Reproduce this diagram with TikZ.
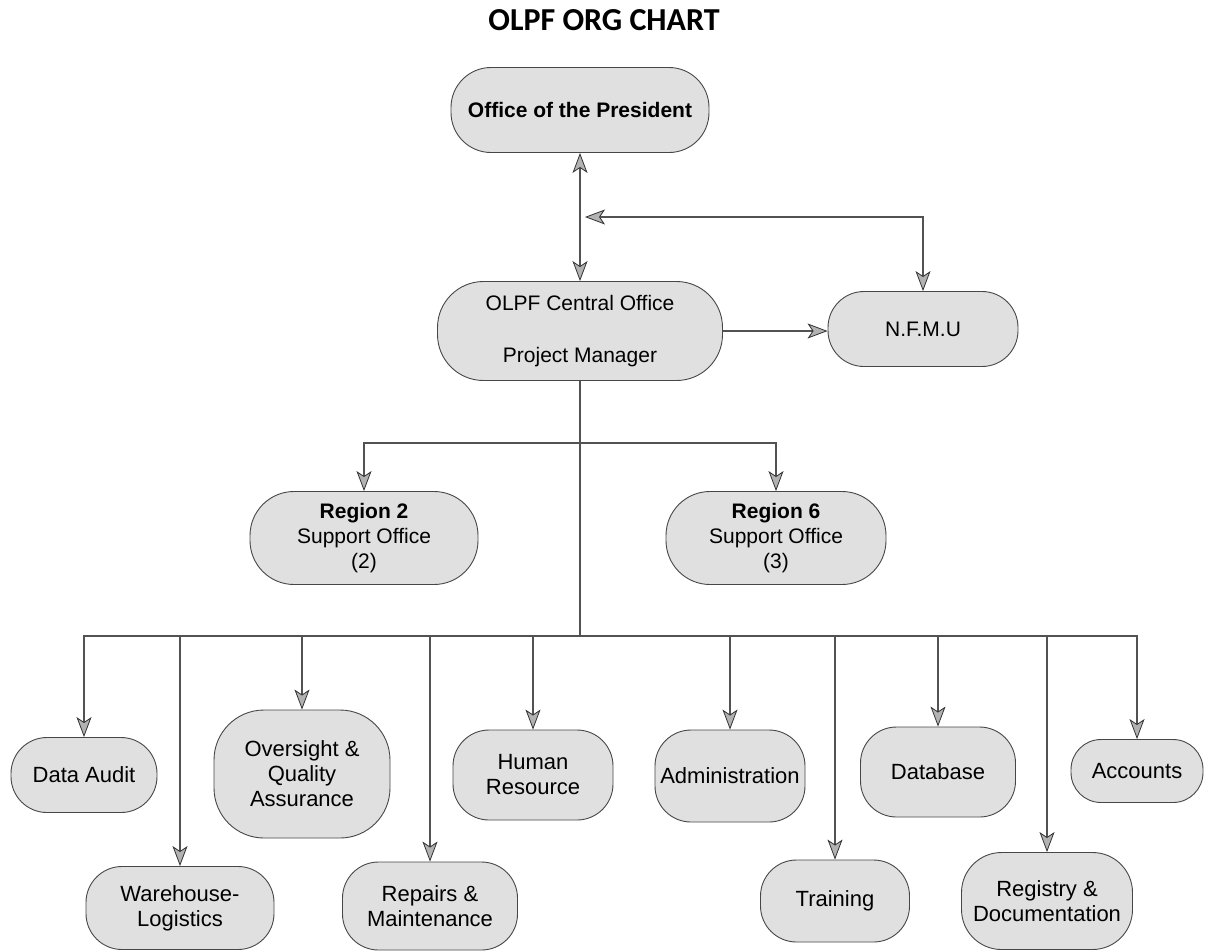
\documentclass[tikz,border=0pt]{standalone}
\usepackage{fontspec}
\setmainfont{Liberation Sans}
\newfontfamily\titlefont{Carlito}
\usetikzlibrary{arrows.meta}
\tikzset{
  unitbox/.style={draw=black!72, line width=0.9pt, fill=black!12, rounded corners=36pt,
    align=center, inner sep=0pt, font=\fontsize{21}{25}\selectfont},
  lowbox/.style={unitbox, font=\fontsize{22}{25}\selectfont},
  tipstyle/.tip={Stealth[length=20pt,width=15pt,inset=5pt,color=black!80,fill=black!30,line width=0.8pt]},
  conn/.style={draw=black!68, line width=2.4pt},
  arr/.style={conn, -tipstyle},
  dblarr/.style={conn, tipstyle-tipstyle},
}
\begin{document}
\begin{tikzpicture}[x=1pt,y=-1pt]
\useasboundingbox (0,0) rectangle (1209,951);
\node[font=\titlefont\bfseries\fontsize{32}{36}\selectfont, inner sep=0pt] (title) at (604,20) {OLPF ORG CHART};

% top level
\node[unitbox, minimum width=258pt, minimum height=85pt, rounded corners=40pt] (op) at (580,110) {\textbf{Office of the President}};
\node[unitbox, minimum width=285pt, minimum height=99pt, rounded corners=46pt] (central) at (580,331) {OLPF Central Office\\[27pt]Project Manager};
\node[unitbox, minimum width=190pt, minimum height=75pt] (nfmu) at (923,329) {N.F.M.U};
\node[unitbox, minimum width=228pt, minimum height=93pt, rounded corners=44pt] (r2) at (364,538) {\textbf{Region 2}\\Support Office\\(2)};
\node[unitbox, minimum width=220pt, minimum height=93pt, rounded corners=44pt] (r6) at (776,538) {\textbf{Region 6}\\Support Office\\(3)};

% bottom level
\node[lowbox, minimum width=146pt, minimum height=75pt] (da) at (84,775) {Data Audit};
\node[lowbox, minimum width=188pt, minimum height=83pt] (wl) at (180,908) {Warehouse-\\Logistics};
\node[lowbox, minimum width=176pt, minimum height=128pt, rounded corners=50pt] (oq) at (302,774) {Oversight \&\\Quality\\Assurance};
\node[lowbox, minimum width=175pt, minimum height=88pt] (rm) at (430,906) {Repairs \&\\Maintenance};
\node[lowbox, minimum width=160pt, minimum height=90pt] (hr) at (533,775) {Human\\Resource};
\node[lowbox, minimum width=150pt, minimum height=92pt] (ad) at (730,776) {Administration};
\node[lowbox, minimum width=149pt, minimum height=82pt] (tr) at (835,901) {Training};
\node[lowbox, minimum width=155pt, minimum height=90pt] (db) at (938,772) {Database};
\node[lowbox, minimum width=171pt, minimum height=97pt, rounded corners=40pt] (rd) at (1047,901) {Registry \&\\Documentation};
\node[lowbox, minimum width=132pt, minimum height=63pt, rounded corners=30pt] (ac) at (1137,771) {Accounts};

% junctions
\coordinate (j1) at (585,217);
\coordinate (bus1) at (580,443);
\coordinate (bus2) at (580,636);

% connectors
\draw[dblarr] (op.south) -- (central.north);
\draw[dblarr] (j1) -| (nfmu.north);
\draw[arr] (central.east) -- (central.east -| nfmu.west);
\draw[conn] (central.south) -- (bus2);
\draw[arr] (bus1) -| (r2.north);
\draw[arr] (bus1) -| (r6.north);
\foreach \n in {da,wl,oq,rm,hr,ad,tr,db,rd,ac}
  \draw[arr] (bus2) -| (\n.north);
\end{tikzpicture}
\end{document}
